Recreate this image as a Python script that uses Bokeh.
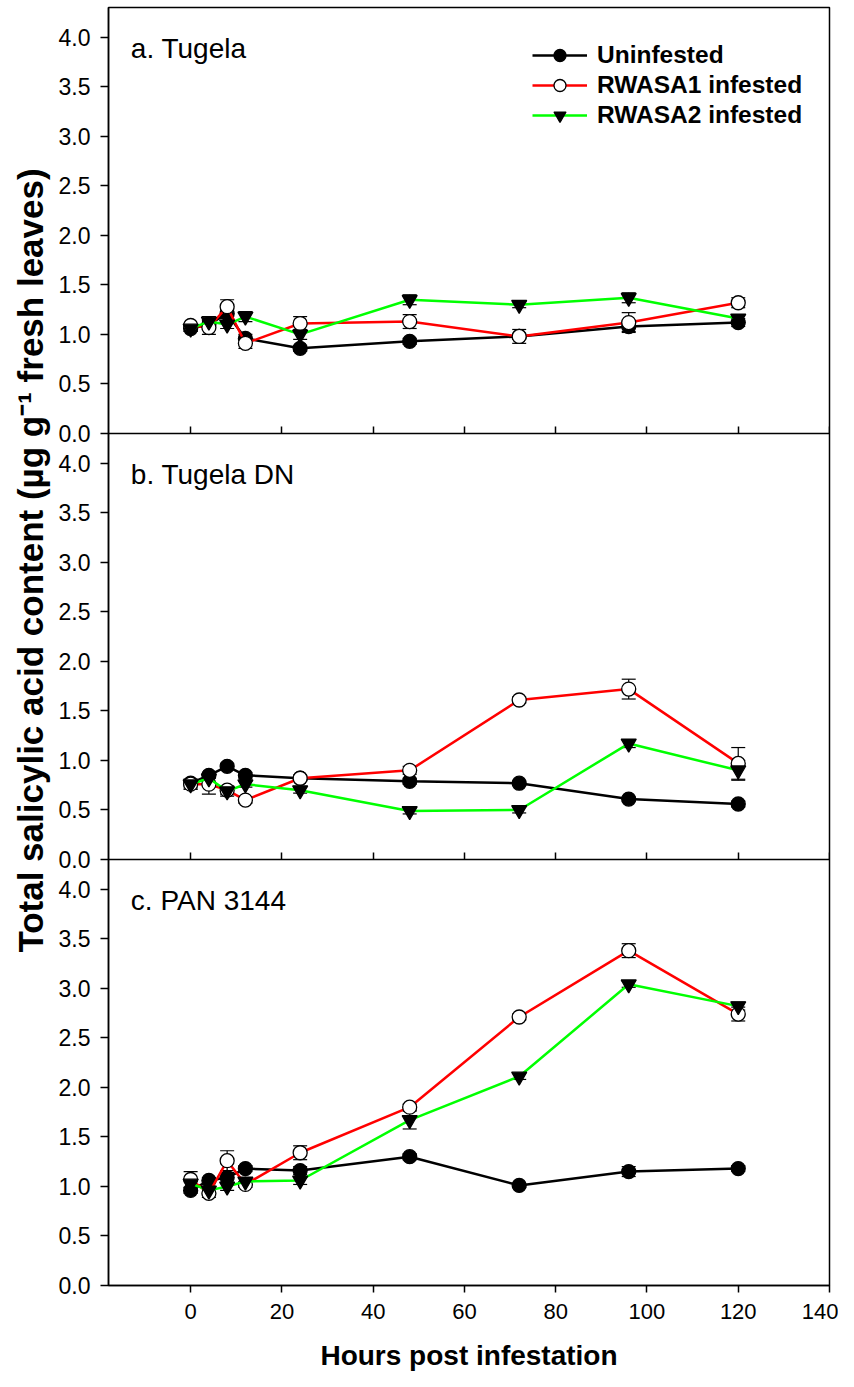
import math
from bokeh.plotting import figure
from bokeh.models import (Range1d, LinearAxis, FixedTicker, Whisker, TeeHead,
                          ColumnDataSource, Label, Legend, LegendItem)
from bokeh.layouts import row
from bokeh.embed import file_html
from bokeh.resources import INLINE

# ---------------- data ----------------
hours = [0, 4, 8, 12, 24, 48, 72, 96, 120]

panel_titles = ["a. Tugela", "b. Tugela DN", "c. PAN 3144"]
series_names = ["Uninfested", "RWASA1 infested", "RWASA2 infested"]

# a. Tugela
unif_a = [1.06, 1.10, 1.21, 0.96, 0.86, 0.93, 0.98, 1.08, 1.12]
rwa1_a = [1.09, 1.07, 1.28, 0.91, 1.11, 1.13, 0.98, 1.12, 1.32]
rwa2_a = [1.06, 1.13, 1.10, 1.18, 1.00, 1.35, 1.30, 1.37, 1.16]
unif_a_se = [0.03, 0.05, 0.05, 0.04, 0.03, 0.03, 0.03, 0.05, 0.04]
rwa1_a_se = [0.02, 0.07, 0.07, 0.05, 0.07, 0.07, 0.07, 0.10, 0.05]
rwa2_a_se = [0.03, 0.05, 0.04, 0.05, 0.05, 0.05, 0.03, 0.05, 0.04]

# b. Tugela DN
unif_b = [0.77, 0.85, 0.94, 0.85, 0.82, 0.79, 0.77, 0.61, 0.56]
rwa1_b = [0.76, 0.76, 0.70, 0.60, 0.82, 0.90, 1.61, 1.72, 0.97]
rwa2_b = [0.76, 0.82, 0.69, 0.76, 0.70, 0.49, 0.50, 1.17, 0.90]
unif_b_se = [0.04, 0.03, 0.03, 0.03, 0.02, 0.03, 0.02, 0.02, 0.03]
rwa1_b_se = [0.05, 0.10, 0.04, 0.03, 0.03, 0.04, 0.03, 0.10, 0.16]
rwa2_b_se = [0.05, 0.04, 0.05, 0.03, 0.03, 0.03, 0.03, 0.04, 0.10]

# c. PAN 3144
unif_c = [0.96, 1.06, 1.09, 1.18, 1.16, 1.30, 1.01, 1.15, 1.18]
rwa1_c = [1.07, 0.93, 1.26, 1.02, 1.34, 1.80, 2.71, 3.38, 2.74]
rwa2_c = [1.03, 0.96, 1.00, 1.05, 1.06, 1.67, 2.11, 3.04, 2.82]
unif_c_se = [0.03, 0.03, 0.05, 0.03, 0.04, 0.03, 0.02, 0.05, 0.03]
rwa1_c_se = [0.08, 0.04, 0.10, 0.03, 0.07, 0.03, 0.03, 0.07, 0.07]
rwa2_c_se = [0.05, 0.04, 0.04, 0.04, 0.04, 0.09, 0.03, 0.03, 0.04]

x_ticks = [0, 20, 40, 60, 80, 100, 120, 140]
y_tick_values = [0.0, 0.5, 1.0, 1.5, 2.0, 2.5, 3.0, 3.5, 4.0]
y_tick_labels = ["0.0", "0.5", "1.0", "1.5", "2.0", "2.5", "3.0", "3.5", "4.0"]

x_label = "Hours post infestation"
y_label = "Total salicylic acid content (\u00b5g g\u207b\u00b9 fresh leaves)"

# ---------------- styling ----------------
FONT = "Liberation Sans"
Y_TOP = 4.3
X_MIN, X_MAX = -18, 140
colors = ["#000000", "#FF0000", "#00FF00"]
markers = ["circle", "circle", "inverted_triangle"]
fills = ["#000000", "#FFFFFF", "#000000"]
sizes = [14, 14, 15]

SIDE_W = 54
FRAME_W, FRAME_H = 721, 1278
BORDER_L, BORDER_R, BORDER_T, BORDER_B = 54, 9, 7, 90
TOTAL_H = FRAME_H + BORDER_T + BORDER_B

p = figure(frame_width=FRAME_W, frame_height=FRAME_H,
           x_range=Range1d(X_MIN, X_MAX), y_range=Range1d(0, 3 * Y_TOP),
           output_backend="svg", toolbar_location=None,
           min_border_left=BORDER_L, min_border_right=BORDER_R,
           min_border_top=BORDER_T, min_border_bottom=BORDER_B)
p.grid.visible = False
p.outline_line_color = "black"
p.outline_line_width = 1.5
p.background_fill_color = "white"
p.border_fill_color = "white"

# panels: a on top, b middle, c bottom (default range)
p.extra_y_ranges = {
    "a": Range1d(-2 * Y_TOP, Y_TOP),
    "b": Range1d(-1 * Y_TOP, 2 * Y_TOP),
}
panel_ranges = ["a", "b", "default"]
panel_offsets = [2 * Y_TOP, Y_TOP, 0.0]

panel_data = [
    ([unif_a, rwa1_a, rwa2_a], [unif_a_se, rwa1_a_se, rwa2_a_se]),
    ([unif_b, rwa1_b, rwa2_b], [unif_b_se, rwa1_b_se, rwa2_b_se]),
    ([unif_c, rwa1_c, rwa2_c], [unif_c_se, rwa1_c_se, rwa2_c_se]),
]

legend_renderers = []
for pi, (vals_list, se_list) in enumerate(panel_data):
    rn = panel_ranges[pi]
    for si in range(3):
        vals = vals_list[si]
        se = se_list[si]
        src = ColumnDataSource(dict(
            x=hours, y=vals,
            upper=[v + e for v, e in zip(vals, se)],
            lower=[v - e for v, e in zip(vals, se)],
        ))
        lr = p.line("x", "y", source=src, line_color=colors[si], line_width=2.5,
                    y_range_name=rn)
        w = Whisker(source=src, base="x", upper="upper", lower="lower",
                    line_color="black", line_width=1.2, y_range_name=rn,
                    upper_head=TeeHead(size=14, line_color="black", line_width=1.2),
                    lower_head=TeeHead(size=14, line_color="black", line_width=1.2))
        p.add_layout(w)
        sr = p.scatter("x", "y", source=src, marker=markers[si], size=sizes[si],
                       fill_color=fills[si], line_color="black", line_width=1.3,
                       y_range_name=rn)
        if pi == 0:
            legend_renderers.append([lr, sr])
    p.add_layout(Label(x=-13.1, y=3.89, y_range_name=rn, text=panel_titles[pi],
                       text_font=FONT, text_font_size="28px",
                       text_color="black", text_baseline="alphabetic"))

# separators between panels (inner x axes with inward ticks, no labels)
for loc in [Y_TOP, 2 * Y_TOP]:
    ax = LinearAxis(ticker=FixedTicker(ticks=x_ticks), fixed_location=loc)
    ax.major_tick_in = 7
    ax.major_tick_out = 0
    ax.minor_tick_in = 0
    ax.minor_tick_out = 0
    ax.major_label_text_font_size = "1px"
    ax.major_label_text_color = None
    ax.major_label_standoff = 0
    ax.axis_line_width = 1.5
    ax.major_tick_line_width = 1.5
    p.add_layout(ax, "below")

# main x axis
xa = p.xaxis[0]
xa.ticker = FixedTicker(ticks=x_ticks)
xa.major_tick_out = 7
xa.major_tick_in = 0
xa.minor_tick_out = 0
xa.minor_tick_in = 0
xa.axis_line_width = 1.5
xa.major_tick_line_width = 1.5
xa.major_label_text_font = FONT
xa.major_label_text_font_size = "22px"
xa.major_label_text_color = "black"
xa.major_label_standoff = 11
xa.axis_label = x_label
xa.axis_label_text_font = FONT
xa.axis_label_text_font_size = "28px"
xa.axis_label_text_font_style = "bold"
xa.axis_label_text_color = "black"
xa.axis_label_standoff = 18

# y axis: one axis across the three stacked panels
tick_pos = []
overrides = {}
for off in panel_offsets:
    for v, lab in zip(y_tick_values, y_tick_labels):
        t = round(off + v, 4)
        tick_pos.append(t)
        overrides[t] = lab
ya = p.yaxis[0]
ya.ticker = FixedTicker(ticks=tick_pos)
ya.major_label_overrides = overrides
ya.major_tick_out = 8
ya.major_tick_in = 0
ya.minor_tick_out = 0
ya.minor_tick_in = 0
ya.axis_line_width = 1.5
ya.major_tick_line_width = 1.5
ya.major_label_text_font = FONT
ya.major_label_text_font_size = "23px"
ya.major_label_text_color = "black"
ya.major_label_standoff = 10

# legend
legend = Legend(items=[LegendItem(label=n, renderers=r)
                       for n, r in zip(series_names, legend_renderers)],
                location=(424, 1155))
legend.border_line_color = None
legend.background_fill_alpha = 0
legend.label_text_font = FONT
legend.label_text_font_size = "24.5px"
legend.label_text_font_style = "bold"
legend.label_text_color = "black"
legend.glyph_width = 55
legend.glyph_height = 30
legend.label_height = 30
legend.label_standoff = 10
legend.spacing = 0
legend.padding = 4
legend.margin = 0
p.add_layout(legend)

# y title in a narrow side figure so it can sit off-centre like the original
# (the row aligns this figure's frame with the main frame: 7 .. 1285 px)
TITLE_CENTER_Y = 560
lf = figure(width=SIDE_W, height=TOTAL_H, x_range=Range1d(0, 1), y_range=Range1d(0, 1),
            output_backend="svg", toolbar_location=None,
            x_axis_type=None, y_axis_type=None, min_border=0)
lf.grid.visible = False
lf.outline_line_color = None
lf.add_layout(Label(x=30, y=FRAME_H + BORDER_T - TITLE_CENTER_Y,
                    x_units="screen", y_units="screen",
                    text=y_label, angle=math.pi / 2, text_align="center",
                    text_baseline="middle", text_font=FONT,
                    text_font_size="35px", text_font_style="bold",
                    text_color="black"))

layout = row(lf, p)
open("out.html", "w").write(file_html(layout, INLINE))
